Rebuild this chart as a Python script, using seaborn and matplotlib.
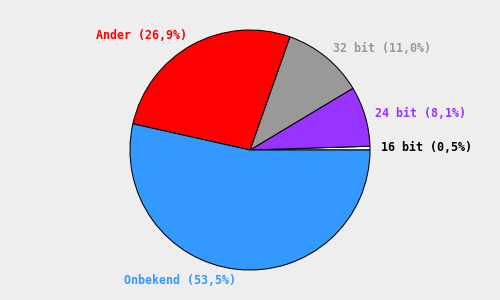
import matplotlib
matplotlib.use("Agg")
import matplotlib.pyplot as plt
import seaborn as sns

categories = ["16 bit", "24 bit", "32 bit", "Ander", "Onbekend"]
values = [0.5, 8.1, 11.0, 26.9, 53.5]
label_texts = ["16 bit (0,5%)", "24 bit (8,1%)", "32 bit (11,0%)", "Ander (26,9%)", "Onbekend (53,5%)"]
slice_colors = ["#ffffff", "#9933ff", "#999999", "#ff0000", "#3399ff"]
text_colors = ["#000000", "#9933ff", "#999999", "#ff0000", "#3399ff"]

sns.set_style("white", {"axes.facecolor": "#eeeeee", "figure.facecolor": "#eeeeee"})

fig = plt.figure(figsize=(5, 3), dpi=100, facecolor="#eeeeee")
ax = fig.add_axes([0, 0, 1, 1])
ax.set_facecolor("#eeeeee")

wedges, texts = ax.pie(
    values,
    labels=label_texts,
    colors=slice_colors,
    startangle=0,
    counterclock=True,
    radius=1.0,
    labeldistance=1.09,
    wedgeprops={"edgecolor": "black", "linewidth": 0.75},
    textprops={"family": "DejaVu Sans Mono", "fontweight": "bold", "fontsize": 8.4},
)
for t, c in zip(texts, text_colors):
    t.set_color(c)

ax.set_xlim(-250 / 120, 250 / 120)
ax.set_ylim(-150 / 120, 150 / 120)
ax.set_aspect("equal")
ax.axis("off")

fig.savefig("out.png", dpi=100, facecolor="#eeeeee")
